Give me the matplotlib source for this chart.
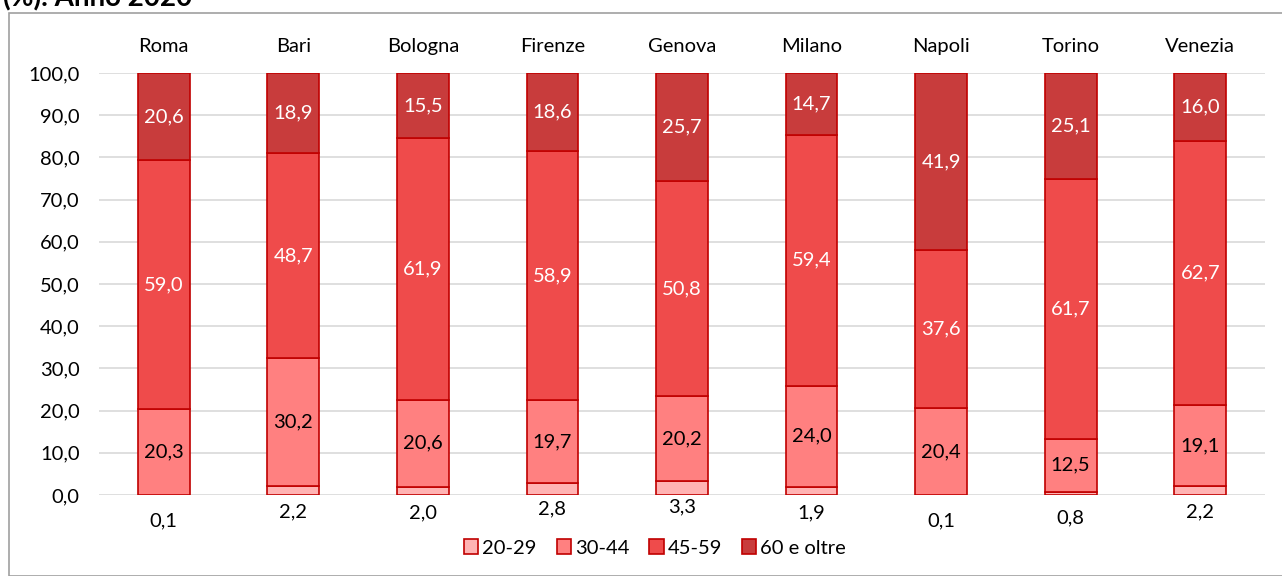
import matplotlib
matplotlib.use("Agg")
import matplotlib.pyplot as plt
from matplotlib.patches import Rectangle, Patch
import numpy as np

cities = ["Roma", "Bari", "Bologna", "Firenze", "Genova", "Milano", "Napoli", "Torino", "Venezia"]
age_20_29 = [0.1, 2.2, 2.0, 2.8, 3.3, 1.9, 0.1, 0.8, 2.2]
age_30_44 = [20.3, 30.2, 20.6, 19.7, 20.2, 24.0, 20.4, 12.5, 19.1]
age_45_59 = [59.0, 48.7, 61.9, 58.9, 50.8, 59.4, 37.6, 61.7, 62.7]
age_60_plus = [20.6, 18.9, 15.5, 18.6, 25.7, 14.7, 41.9, 25.1, 16.0]
series_names = ["20-29", "30-44", "45-59", "60 e oltre"]
yticks = [0, 10, 20, 30, 40, 50, 60, 70, 80, 90, 100]

colors = ["#ffb3b3", "#ff8080", "#ef4b4b", "#c83c3c"]
edge = "#c00000"
label_colors = [None, "black", "white", "white"]
FS = 14.5

plt.rcParams['font.family'] = ['Lato', 'DejaVu Sans']

fig = plt.figure(figsize=(12.82, 5.76), dpi=100)
W, H = 1282, 576
ax = fig.add_axes([99 / W, 1 - 495 / H, (1265 - 99) / W, (495 - 73) / H])

# outer frame
fig.patches.append(Rectangle((9 / W, 0), (1290 - 9) / W, 1 - 13 / H, transform=fig.transFigure,
                             fill=False, edgecolor="#a0a0a0", linewidth=1.2))
fig.text(3 / W, 1 - 6 / H, "(%). Anno 2020", fontsize=20, fontweight="bold", va="baseline", ha="left")

x = np.arange(len(cities))
series = [age_20_29, age_30_44, age_45_59, age_60_plus]
bottom = np.zeros(len(cities))
width = 0.4
for i, (vals, col) in enumerate(zip(series, colors)):
    vals = np.array(vals)
    ax.bar(x, vals, width, bottom=bottom, color=col, edgecolor=edge, linewidth=1.2,
           label=series_names[i], zorder=3)
    for xi, b, v in zip(x, bottom, vals):
        if i == 0:
            ax.text(xi, b + v - 6.2, f"{v:.1f}".replace(".", ","), ha="center", va="center",
                    fontsize=FS, color="black", clip_on=False)
        else:
            ax.text(xi, b + v / 2, f"{v:.1f}".replace(".", ","), ha="center", va="center",
                    fontsize=FS, color=label_colors[i], zorder=4)
    bottom = bottom + vals

ax.set_xlim(-0.5, len(cities) - 0.5)
ax.set_ylim(0, 100)
ax.set_yticks(yticks)
ax.set_yticklabels([f"{t:.1f}".replace(".", ",") for t in yticks], fontsize=FS)
ax.yaxis.grid(True, color="#d9d9d9", linewidth=1.2, zorder=0)
ax.set_axisbelow(True)
ax.set_xticks(x)
ax.set_xticklabels(cities, fontsize=FS)
ax.xaxis.tick_top()
ax.tick_params(axis="x", length=0, pad=13)
ax.tick_params(axis="y", length=0, pad=14)
for s in ax.spines.values():
    s.set_visible(False)

handles = [Patch(facecolor=c, edgecolor=edge, linewidth=1.2) for c in colors]
fig.legend(handles, series_names, loc="center", bbox_to_anchor=(655 / W, 1 - 548 / H), ncol=4,
           frameon=False, fontsize=FS, handlelength=0.7, handleheight=0.7, handletextpad=0.2,
           columnspacing=1.0)

fig.savefig("out.png", dpi=100)
